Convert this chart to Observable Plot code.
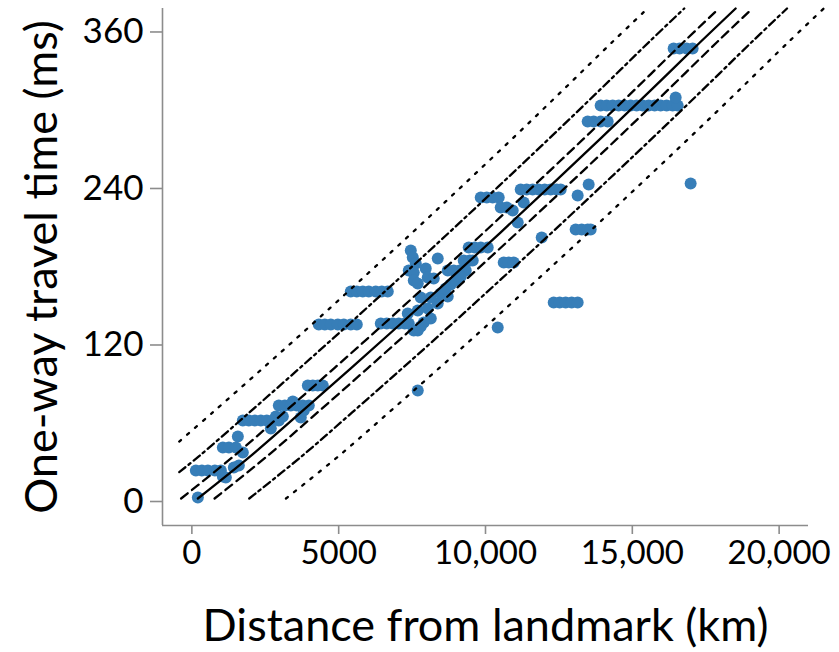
<!DOCTYPE html>
<html><head><meta charset="utf-8">
<script src="https://cdn.jsdelivr.net/npm/d3@7"></script>
<script src="https://cdn.jsdelivr.net/npm/@observablehq/plot@0.6"></script>
<style>
html,body{margin:0;padding:0;background:#fff;}
#chart svg{display:block;}
</style></head><body><div id="chart"></div>
<script>
// Measured points: distance from landmark (km) and one-way travel time (ms)
const distKm = [
  204,
  136, 340, 545, 783, 987,
  1055, 1157, 1430, 1600,
  1055, 1260, 1498,
  1736, 1566,
  1736, 1940, 2145, 2349, 2553, 2757, 2961,
  2689, 2859, 3098,
  2961, 3166, 3370, 3574, 3778, 3983,
  3438, 3710, 3812,
  3949, 4119, 4289, 4459,
  4323, 4527, 4732, 4970, 5174, 5412, 5617,
  5412, 5617, 5821, 6025, 6263, 6468, 6672,
  6434, 6638, 6842, 7046, 7251, 7387,
  7455, 7523, 7625, 7387, 7557, 7965, 8374, 7557, 7693, 8033, 8238,
  8714, 8918, 9123, 9327,
  9259, 9463, 9565,
  9429, 9633, 9838, 10076,
  7353, 7693, 8033, 8374, 7795, 8136, 8476, 8714, 8646, 8816, 8987, 9157,
  7897, 8136, 7693, 7795, 7557, 7693, 10416,
  9838, 10042, 10246, 10450,
  10518, 10723, 10927, 11097, 11301,
  11199, 11403, 11608, 11812, 12016, 12220, 12425, 12561,
  11914,
  13071, 13276, 13480, 13582,
  13139, 13514,
  12323, 12527, 12731, 12935, 13139,
  16986,
  13480, 13684, 13922, 14161,
  13922, 14127, 14331, 14535, 14739, 14944, 15148, 15352, 15556, 15761, 15965, 16169, 16374, 16544,
  16476,
  16407, 16612, 16850, 17054,
  10621, 10791, 10961
];
const timeMs = [
  3.1,
  23.8, 23.8, 23.8, 23.8, 23.8,
  19.2, 18.4, 26.1, 27.6,
  41.4, 41.4, 41.4,
  37.6, 49.8,
  62.1, 62.1, 62.1, 62.1, 62.1, 62.1, 62.1,
  56.0, 65.2, 65.2,
  73.6, 73.6, 73.6, 73.6, 73.6, 73.6,
  76.7, 64.4, 69.8,
  88.9, 88.9, 88.9, 88.9,
  135.7, 135.7, 135.7, 135.7, 135.7, 135.7, 135.7,
  161.0, 161.0, 161.0, 161.0, 161.0, 161.0, 161.0,
  136.5, 136.5, 136.5, 136.5, 136.5, 136.5,
  192.5, 187.1, 182.5, 177.1, 175.6, 178.7, 186.3, 169.5, 167.2, 171.8, 171.0,
  177.1, 177.1, 177.1, 177.1,
  184.8, 184.8, 184.8,
  194.8, 194.8, 194.8, 194.8,
  144.2, 146.5, 148.0, 151.8, 156.4, 156.4, 159.5, 157.2, 163.3, 166.4, 169.5, 172.5,
  137.3, 140.3, 131.1, 134.2, 131.1, 85.1, 133.4,
  233.1, 233.1, 233.1, 233.1,
  225.4, 225.4, 223.1, 213.9, 229.3,
  239.2, 239.2, 239.2, 239.2, 239.2, 239.2, 239.2, 239.2,
  202.4,
  208.6, 208.6, 208.6, 208.6,
  234.6, 243.1,
  152.6, 152.6, 152.6, 152.6, 152.6,
  243.8,
  291.4, 291.4, 291.4, 291.4,
  303.6, 303.6, 303.6, 303.6, 303.6, 303.6, 303.6, 303.6, 303.6, 303.6, 303.6, 303.6, 303.6, 303.6,
  309.8,
  347.3, 347.3, 347.3, 347.3,
  183.3, 183.3, 183.3
];

// Model line (solid)
const modelDistKm = [204, 2008, 3710, 5413, 7115, 8817, 10519, 12221, 13924, 15626, 17328, 18518];
const modelTimeMs = [2.3, 35.0, 68.3, 102.1, 136.3, 171.2, 206.4, 242.2, 278.4, 315.2, 352.5, 378.0];
// Bounds: model shifted in distance
const bandOffsetsKm = [-3000, -1750, -570, 570, 1750, 3000];
const bandDash = ["2.5,8", "8,4,2.5,4", "8.5,5.5", "8.5,5.5", "8,4,2.5,4", "2.5,8"];
const lineStartKm = -430;

const xTicks = [0, 5000, 10000, 15000, 20000];
const xTickLabels = ["0", "5000", "10,000", "15,000", "20,000"];
const yTicks = [0, 120, 240, 360];
const xTitle = "Distance from landmark (km)";
const yTitle = "One-way travel time (ms)";
const xDomain = [-1000, 21000];
const yDomain = [-18.4, 378];

const points = distKm.map((d, i) => ({d, t: timeMs[i]}));
const center = modelDistKm.map((d, i) => ({d, t: modelTimeMs[i]}));
function shifted(off) {
  const pts = center.map(p => ({d: p.d + off, t: p.t}));
  const out = [];
  for (let i = 0; i < pts.length; i++) {
    const p = pts[i];
    if (p.d >= lineStartKm) {
      if (out.length === 0 && i > 0) {
        const q = pts[i - 1];
        const f = (lineStartKm - q.d) / (p.d - q.d);
        out.push({d: lineStartKm, t: q.t + f * (p.t - q.t)});
      }
      out.push(p);
    }
  }
  return out;
}

const axisGray = "#8c8c8c";
const marks = [
  Plot.ruleX([xDomain[0]], {stroke: axisGray, strokeWidth: 1.6}),
  Plot.ruleY([yDomain[0]], {stroke: axisGray, strokeWidth: 1.6}),
  Plot.axisX({ticks: xTicks, tickFormat: d => xTickLabels[xTicks.indexOf(d)], tickSize: 9, tickPadding: 6, fontSize: 33, stroke: axisGray, strokeWidth: 1.6, label: null}),
  Plot.axisY({ticks: yTicks, tickSize: 12, tickPadding: 7, fontSize: 35, stroke: axisGray, strokeWidth: 1.6, label: null}),
  Plot.dot(points, {x: "d", y: "t", r: 6, fill: "#377eb8", stroke: "none"}),
  Plot.line(center, {x: "d", y: "t", stroke: "black", strokeWidth: 2.3, curve: "catmull-rom"})
];
bandOffsetsKm.forEach((off, i) => {
  marks.push(Plot.line(shifted(off), {x: "d", y: "t", stroke: "black", strokeWidth: 2.3, strokeDasharray: bandDash[i], curve: "catmull-rom"}));
});
marks.push(Plot.text([xTitle], {frameAnchor: "bottom", dy: 101, fontSize: 45, lineAnchor: "middle", fill: "black"}));
marks.push(Plot.text([yTitle], {frameAnchor: "left", rotate: -90, dx: -120, fontSize: 45, lineAnchor: "middle", textAnchor: "middle", fill: "black"}));

const chart = Plot.plot({
  width: 839, height: 652,
  marginLeft: 162, marginRight: 31, marginTop: 8, marginBottom: 127,
  style: {fontFamily: "Lato, sans-serif", background: "white", overflow: "visible", color: "black"},
  x: {domain: xDomain},
  y: {domain: yDomain},
  marks
});
document.getElementById("chart").appendChild(chart);
</script>
</body></html>
